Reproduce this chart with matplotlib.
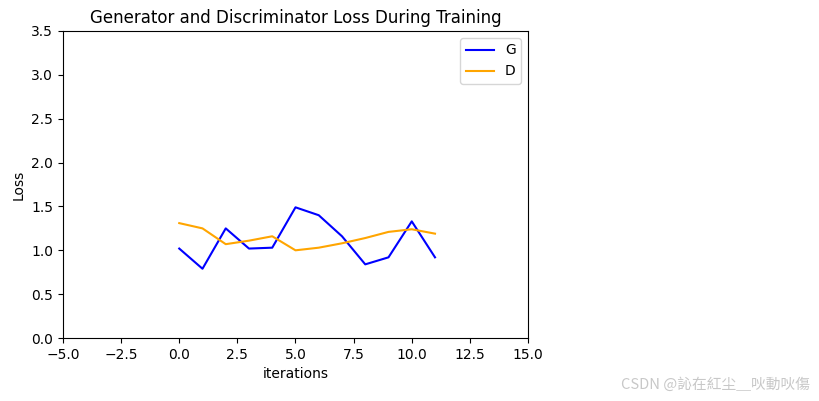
import matplotlib
matplotlib.use('Agg')
import matplotlib.pyplot as plt

iters = list(range(12))
G_losses = [1.02, 0.79, 1.25, 1.02, 1.03, 1.49, 1.40, 1.16, 0.84, 0.92, 1.33, 0.92]
D_losses = [1.31, 1.25, 1.07, 1.11, 1.16, 1.00, 1.03, 1.08, 1.14, 1.21, 1.24, 1.19]

fig = plt.figure(figsize=(8.19, 4.01), dpi=100)
ax = fig.add_axes([0.0769, 0.157, 0.5678, 0.7657])
ax.plot(iters, G_losses, label='G', color='blue')
ax.plot(iters, D_losses, label='D', color='orange')
ax.set_xlim(-5, 15)
ax.set_ylim(0, 3.5)
ax.set_xlabel('iterations')
ax.set_ylabel('Loss')
ax.set_title('Generator and Discriminator Loss During Training')
ax.legend(loc='upper right')

fig.text(0.989, 0.04, 'CSDN @訫在紅尘＿吙動吙傷', ha='right', va='center',
         fontsize=10.6, color='#c8c8c8',
         family=['Noto Sans CJK TC', 'DejaVu Sans'])

plt.savefig('out.png', dpi=100)
